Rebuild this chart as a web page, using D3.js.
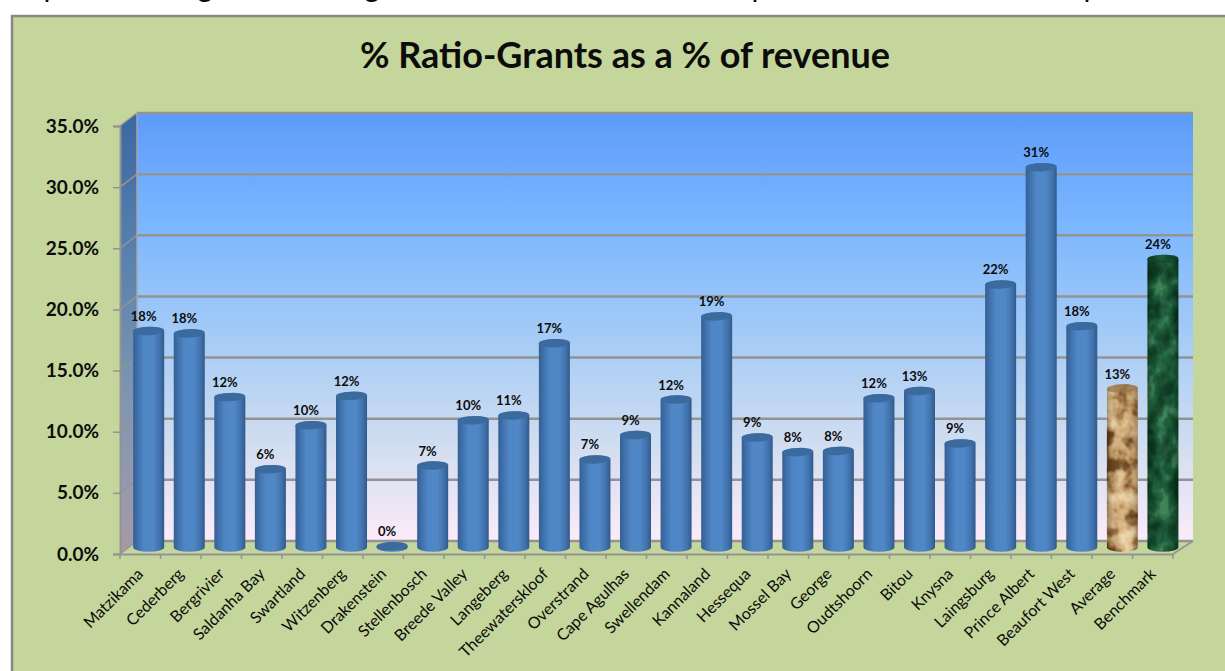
<!DOCTYPE html>
<html>
<head>
<meta charset="utf-8">
<script src="https://cdn.jsdelivr.net/npm/d3@7"></script>
<style>
  html, body { margin: 0; padding: 0; background: #fff; }
  svg { display: block; }
  text { font-family: Lato, "Open Sans", sans-serif; fill: #0c0c0c; }
  .y-axis text { font-size: 19px; font-weight: 700; }
  .x-axis text { font-size: 16px; font-weight: 400; }
  .bar-label { font-size: 13px; font-weight: 700; text-anchor: middle; }
</style>
</head>
<body>
<svg id="chart" width="1225" height="671"></svg>
<script>
//
// Data
//
const categories = ["Matzikama", "Cederberg", "Bergrivier", "Saldanha Bay", "Swartland", "Witzenberg",
    "Drakenstein", "Stellenbosch", "Breede Valley", "Langeberg", "Theewaterskloof", "Overstrand",
    "Cape Agulhas", "Swellendam", "Kannaland", "Hessequa", "Mossel Bay", "George", "Oudtshoorn",
    "Bitou", "Knysna", "Laingsburg", "Prince Albert", "Beaufort West", "Average", "Benchmark"];
const values = [17.7, 17.51, 12.3, 6.4, 10.0, 12.4, 0.1, 6.7, 10.4, 10.8, 16.7, 7.2, 9.2, 12.1, 18.9,
    9.0, 7.8, 7.9, 12.2, 12.8, 8.51, 21.51, 31.1, 18.1, 13.0, 23.6];
const yTicks = [0, 5, 10, 15, 20, 25, 30, 35];
const clippedGlyphs = ["p", "g", "g", "p", "p"];
const clippedGlyphX = [52, 205, 372, 760, 1092];
const title = "% Ratio-Grants as a % of revenue";

const svg = d3.select("#chart");
const defs = svg.append("defs");

// Scales: front edge of the floor, back wall, and the plane the cylinders stand on.
const x = d3.scaleBand().domain(categories).range([120, 1173]);
const barX = d3.scaleBand().domain(categories).range([128.4, 1183.2]);
const yFront = d3.scaleLinear().domain([0, 35]).range([554, 126]);
const yBack = d3.scaleLinear().domain([0, 35]).range([541, 113]);
const yBar = d3.scaleLinear().domain([0, 35]).range([547.5, 119.5]);

const BAR_W = 31, RY = 4.2;

// Gradients
function gradient(id, horizontal, stops) {
    const g = defs.append("linearGradient").attr("id", id)
        .attr("x1", 0).attr("y1", 0)
        .attr("x2", horizontal ? 1 : 0).attr("y2", horizontal ? 0 : 1);
    stops.forEach(s => g.append("stop").attr("offset", s[0]).attr("stop-color", s[1]).attr("stop-opacity", s[2] ?? 1));
}
gradient("wall", false, [[0, "#5d9bf9"], [0.25, "#7ab6ff"], [0.55, "#a9cdf5"], [0.8, "#d5dff0"], [1, "#fcebfa"]]);
gradient("side", false, [[0, "#3b66a3"], [0.3, "#5580ac"], [0.65, "#7f96b2"], [1, "#a89aa6"]]);
gradient("cyl", true, [[0, "#335f94"], [0.14, "#3f70aa"], [0.35, "#4f86c6"], [0.65, "#5087c7"], [0.86, "#4172ac"], [1, "#32598a"]]);
gradient("shade", true, [[0, "#000", 0.32], [0.18, "#000", 0.05], [0.5, "#fff", 0.04], [0.82, "#000", 0.05], [1, "#000", 0.32]]);

// Stone textures for the last two cylinders
function texture(id, freq, seed, red, green, blue) {
    const f = defs.append("filter").attr("id", id)
        .attr("x", 0).attr("y", 0).attr("width", 1).attr("height", 1)
        .attr("color-interpolation-filters", "sRGB");
    f.append("feTurbulence").attr("type", "fractalNoise").attr("baseFrequency", freq)
        .attr("numOctaves", 3).attr("seed", seed);
    f.append("feColorMatrix").attr("type", "matrix")
        .attr("values", "2.2 0 0 0 -0.6  2.2 0 0 0 -0.6  2.2 0 0 0 -0.6  0 0 0 0 1");
    const t = f.append("feComponentTransfer");
    t.append("feFuncR").attr("type", "table").attr("tableValues", red);
    t.append("feFuncG").attr("type", "table").attr("tableValues", green);
    t.append("feFuncB").attr("type", "table").attr("tableValues", blue);
}
texture("wood", "0.06 0.055", 12, "0.42 0.62 0.80 0.87 0.93", "0.28 0.45 0.65 0.74 0.84", "0.14 0.26 0.45 0.55 0.68");
texture("marble", "0.07 0.05", 5, "0.04 0.07 0.09 0.12 0.24", "0.22 0.27 0.33 0.39 0.50", "0.13 0.16 0.20 0.24 0.33");

//
// Frame and plot walls
//
svg.append("rect").attr("x", 12).attr("y", 16).attr("width", 1240).attr("height", 680)
    .attr("fill", "#c4d69b").attr("stroke", "#878787").attr("stroke-width", 2.5);

// Bottoms of the line of text cropped by the top of the picture
svg.selectAll(".clipped").data(clippedGlyphs).join("text")
    .attr("class", "clipped")
    .attr("x", (d, i) => clippedGlyphX[i])
    .attr("y", -3)
    .attr("text-anchor", "middle")
    .style("font-size", "30px")
    .text(d => d);

svg.append("text").attr("x", 625).attr("y", 68).attr("text-anchor", "middle")
    .style("font-size", "36px").style("font-weight", 700)
    .attr("textLength", 530).attr("lengthAdjust", "spacingAndGlyphs")
    .text(title);

const [x0, x1] = x.range();
const backL = x0 + 17, backR = x1 + 20;
const line = d3.line();

svg.append("rect").attr("x", backL).attr("y", yBack(35))
    .attr("width", backR - backL).attr("height", yBack(0) - yBack(35))
    .attr("fill", "url(#wall)");
svg.append("path")
    .attr("d", line([[x0, yFront(35)], [backL, yBack(35)], [backL, yBack(0)], [x0, yFront(0)]]) + "Z")
    .attr("fill", "url(#side)");
svg.append("path")
    .attr("d", line([[x0, yFront(0)], [backL, yBack(0)], [backR, yBack(0)], [x1, yFront(0)]]) + "Z")
    .attr("fill", "#c4d69b");

const GRID = "#939393";
// Back wall gridlines and their slant down the side wall
svg.append("g").selectAll("line").data(yTicks).join("line")
    .attr("x1", backL).attr("x2", backR)
    .attr("y1", d => yBack(d)).attr("y2", d => yBack(d))
    .attr("stroke", GRID).attr("stroke-width", 2.5);
svg.append("g").selectAll("line").data(yTicks).join("line")
    .attr("x1", x0).attr("x2", backL)
    .attr("y1", d => yFront(d)).attr("y2", d => yBack(d))
    .attr("stroke", GRID).attr("stroke-width", 1.5);
svg.append("path").attr("fill", "none").attr("stroke", "#a6a6a6").attr("stroke-width", 1.5)
    .attr("d", line([[backL, yBack(0)], [backL, yBack(35)]]));
svg.append("path").attr("fill", "none").attr("stroke", GRID).attr("stroke-width", 1.5)
    .attr("d", line([[x1, yFront(0)], [backR, yBack(0)]]));

// Axes
const yAxis = d3.axisLeft(yFront).tickValues(yTicks).tickSize(7).tickPadding(14)
    .tickFormat(d => d.toFixed(1) + "%");
svg.append("g").attr("class", "y-axis").attr("transform", `translate(${x0},0)`).call(yAxis)
    .call(g => g.selectAll("line").attr("stroke", GRID).attr("stroke-width", 1.5))
    .call(g => g.select(".domain").attr("stroke", GRID).attr("stroke-width", 2));

const xAxis = d3.axisBottom(x).tickSize(0).tickPadding(0);
svg.append("g").attr("class", "x-axis").attr("transform", `translate(0,${yFront(0)})`).call(xAxis)
    .call(g => g.select(".domain").attr("stroke", GRID).attr("stroke-width", 2))
    .call(g => g.selectAll("text")
        .attr("text-anchor", "end")
        .attr("dx", 0).attr("dy", 0).attr("y", 0)
        .attr("transform", "translate(4,21) rotate(-45)"));

// Tick marks sit on the edges between categories
svg.append("g").selectAll("line").data(categories.concat("end")).join("line")
    .attr("x1", (d, i) => x0 + i * x.step()).attr("x2", (d, i) => x0 + i * x.step())
    .attr("y1", yFront(0)).attr("y2", yFront(0) + 5)
    .attr("stroke", GRID).attr("stroke-width", 1.5);

//
// Cylinders
//
function cylinderPath(d, i) {
    const cx = barX(categories[i]) + barX.bandwidth() / 2, r = BAR_W / 2;
    const top = yBar(d), bottom = yBar(0);
    return `M${cx - r},${top} L${cx - r},${bottom} A${r},${RY} 0 0 0 ${cx + r},${bottom} `
        + `L${cx + r},${top} A${r},${RY} 0 0 0 ${cx - r},${top} Z`;
}

const bars = svg.append("g").selectAll("g").data(values).join("g");

bars.each(function (d, i) {
    const g = d3.select(this);
    const cat = categories[i];
    const cx = barX(cat) + barX.bandwidth() / 2;
    const textured = cat === "Average" ? "wood" : cat === "Benchmark" ? "marble" : null;

    if (textured) {
        const clipId = "clip-" + textured;
        defs.append("clipPath").attr("id", clipId).append("path").attr("d", cylinderPath(d, i));
        const body = g.append("g").attr("clip-path", `url(#${clipId})`);
        body.append("rect")
            .attr("x", cx - BAR_W / 2).attr("width", BAR_W)
            .attr("y", yBar(d) - RY - 1).attr("height", yBar(0) - yBar(d) + 2 * RY + 2)
            .attr("filter", `url(#${textured})`);
        body.append("rect")
            .attr("x", cx - BAR_W / 2).attr("width", BAR_W)
            .attr("y", yBar(d) - RY - 1).attr("height", yBar(0) - yBar(d) + 2 * RY + 2)
            .attr("fill", "url(#shade)");
    } else {
        g.append("path").attr("d", cylinderPath(d, i)).attr("fill", "url(#cyl)");
    }

    // Top cap, tipped slightly like the reference
    g.append("ellipse")
        .attr("cx", cx).attr("cy", yBar(d))
        .attr("rx", BAR_W / 2).attr("ry", RY)
        .attr("transform", `rotate(-3 ${cx} ${yBar(d)})`)
        .attr("fill", cat === "Average" ? "#96764f" : cat === "Benchmark" ? "#14452b" : "#3b6a9f")
        .attr("fill-opacity", textured ? 0.7 : 1);

    g.append("text").attr("class", "bar-label")
        .attr("x", cx - 5).attr("y", yBar(d) - 10)
        .text(d3.format(".0f")(d) + "%");
});
</script>
</body>
</html>
